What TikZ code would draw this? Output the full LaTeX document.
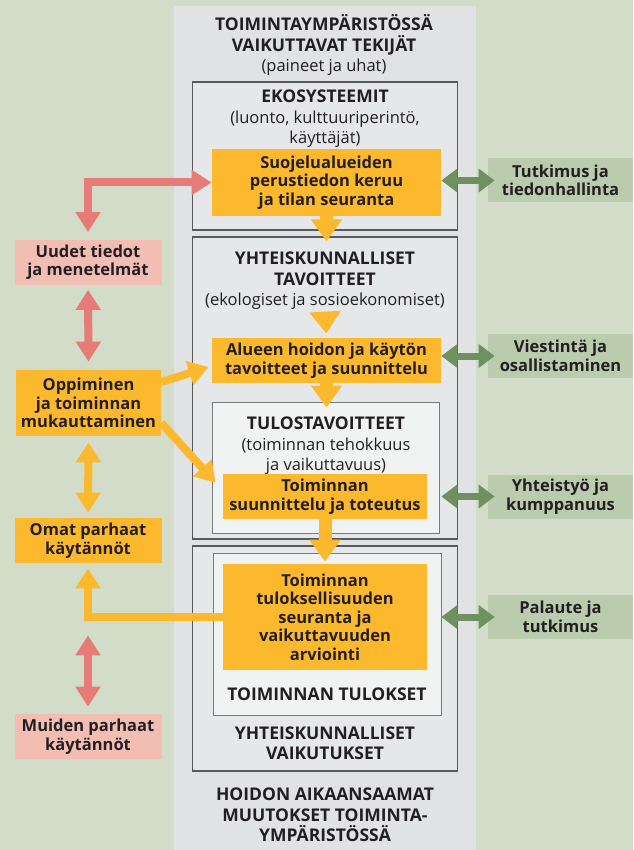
\documentclass[tikz,border=0pt]{standalone}
\usepackage{fontspec}
\setmainfont{Open Sans}
\usepackage{xcolor}
\usetikzlibrary{positioning,arrows.meta}
\definecolor{bggreen}{HTML}{D2DCC8}
\definecolor{colgrey}{HTML}{E1E2E3}
\definecolor{boxgrey}{HTML}{E6E7E8}
\definecolor{innergrey}{HTML}{F1F2F2}
\definecolor{framegrey}{HTML}{58595B}
\definecolor{orangebox}{HTML}{FDB92E}
\definecolor{pinkbox}{HTML}{F2BEB4}
\definecolor{redarr}{HTML}{E77B78}
\definecolor{greenbox}{HTML}{BACBAE}
\definecolor{greenarr}{HTML}{6F9060}
\definecolor{ink}{HTML}{231F20}
\newcommand{\sub}{\mdseries\fontsize{16.5}{18.5}\selectfont}
\tikzset{every picture/.style={line width=0.75pt}}
\tikzset{
  txt/.style={align=center, text=ink, inner sep=0pt, font=\fontsize{16.5}{18.5}\selectfont},
  head/.style={txt, font=\fontsize{17.5}{20.5}\selectfont\bfseries},
  outerbox/.style={draw=framegrey, line width=1.2pt, fill=boxgrey, minimum width=265pt, inner sep=0pt},
  innerbox/.style={draw=framegrey!80, line width=1pt, fill=innergrey, inner sep=0pt},
  obox/.style={txt, fill=orangebox, font=\fontsize{16.5}{18.5}\selectfont\bfseries},
  pbox/.style={obox, fill=pinkbox, minimum width=147pt, minimum height=45pt},
  gbox/.style={obox, fill=greenbox, minimum width=145pt, minimum height=44pt},
  redarrow/.style={draw=redarr, line width=8pt, {Triangle[width=24pt,length=20pt]}-{Triangle[width=24pt,length=20pt]}},
  orangearrow/.style={draw=orangebox, line width=8pt, -{Triangle[width=24pt,length=20pt]}},
  downarrow/.style={draw=orangebox, line width=13pt, -{Triangle[width=30pt,length=22pt]}},
  greenarrow/.style={draw=greenarr, line width=7pt, {Triangle[width=23pt,length=16pt]}-{Triangle[width=23pt,length=16pt]}}
}
\begin{document}
\begin{tikzpicture}[x=1pt,y=-1pt]
\useasboundingbox (0,0) rectangle (633,850);
\fill[bggreen] (0,0) rectangle (633,850);
\fill[colgrey] (174,6) rectangle (476,850);
%
\node[outerbox, minimum height=148pt] (eko) at (325.3,156) {};
\node[outerbox, minimum height=302pt] (yht) at (325.3,388) {};
\node[outerbox, minimum height=225pt] (vaik) at (325.3,658.5) {};
\node[innerbox, minimum width=226.5pt, minimum height=131pt] (tulos) at (326,467.5) {};
\node[innerbox, minimum width=228pt, minimum height=162pt] (tulokset) at (327,634) {};
%
\node[obox, minimum width=229pt, minimum height=67pt] (suojelu) at (326.5,182.5) {Suojelualueiden\\perustiedon keruu\\ja tilan seuranta};
\node[obox, minimum width=229pt, minimum height=45pt] (alueen) at (326.5,360.5) {Alueen hoidon ja käytön\\tavoitteet ja suunnittelu};
\node[obox, minimum width=204pt, minimum height=45pt] (toteutus) at (325,496.5) {Toiminnan\\suunnittelu ja toteutus};
\node[obox, minimum width=204pt, minimum height=106pt] (arviointi) at (325,617) {Toiminnan\\tuloksellisuuden\\seuranta ja\\vaikuttavuuden\\arviointi};
%
\node[head] (otsikko) at (324,45) {TOIMINTAYMPÄRISTÖSSÄ\\VAIKUTTAVAT TEKIJÄT\\\sub (paineet ja uhat)};
\node[head] (ekot) at (325,119) {EKOSYSTEEMIT\\\sub (luonto, kulttuuriperintö,\\\sub käyttäjät)};
\node[head] (yhtt) at (325,281) {YHTEISKUNNALLISET\\TAVOITTEET\\\sub (ekologiset ja sosioekonomiset)};
\node[head] (tulost) at (326,446) {TULOSTAVOITTEET\\\sub (toiminnan tehokkuus\\\sub ja vaikuttavuus)};
\node[head] (tuloksett) at (327,694) {TOIMINNAN TULOKSET};
\node[head] (vaikt) at (325,743) {YHTEISKUNNALLISET\\VAIKUTUKSET};
\node[head] (muutokset) at (325,815) {HOIDON AIKAANSAAMAT\\MUUTOKSET TOIMINTA-\\YMPÄRISTÖSSÄ};
%
\node[pbox] (uudet) at (88,262) {Uudet tiedot\\ja menetelmät};
\node[obox, minimum width=145pt, minimum height=66pt] (oppiminen) at (88.5,403) {Oppiminen\\ja toiminnan\\mukauttaminen};
\node[obox, minimum width=147pt, minimum height=45pt] (omat) at (88,540.5) {Omat parhaat\\käytännöt};
\node[pbox] (muiden) at (88,736.5) {Muiden parhaat\\käytännöt};
%
\node[gbox] (tutkimus) at (560.5,180.5) {Tutkimus ja\\tiedonhallinta};
\node[gbox] (viestinta) at (560.5,356) {Viestintä ja\\osallistaminen};
\node[gbox] (yhteistyo) at (560.5,496.5) {Yhteistyö ja\\kumppanuus};
\node[gbox] (palaute) at (560.5,617) {Palaute ja\\tutkimus};
%
\draw[downarrow, shorten >=-5pt] (suojelu.south) -- (suojelu.south |- yht.north);
\draw[downarrow, shorten <=3pt, shorten >=4pt] (yhtt.south) -- (alueen.north);
\draw[downarrow, shorten >=-6pt] (alueen.south) -- (alueen.south |- tulos.north);
\draw[downarrow, shorten >=2pt] (toteutus.south) -- (arviointi.north);
%
\foreach \Source in {tutkimus,viestinta,yhteistyo,palaute}
\draw[greenarrow, shorten <=-7pt] (\Source.west) -- (\Source.west -| suojelu.east);
%
\draw[redarrow, shorten >=7pt] (suojelu.west) -| (uudet.north);
\draw[redarrow, shorten <=5pt, shorten >=8pt] (uudet.south) -- (oppiminen.north);
\draw[redarrow, shorten <=72pt, shorten >=7pt] (omat.south) -- (muiden.north);
%
\draw[orangearrow, {Triangle[width=24pt,length=20pt]}-{Triangle[width=24pt,length=20pt]}, shorten <=6pt, shorten >=5pt] (oppiminen.south) -- (omat.north);
\draw[orangearrow, shorten >=5pt] (arviointi.west) -| (omat.south);
\draw[orangearrow] ([yshift=21pt]oppiminen.east) -- ([xshift=-3pt,yshift=-6.5pt]alueen.west);
\draw[orangearrow] ([yshift=-20pt]oppiminen.east) -- ([xshift=-7pt,yshift=-9pt]toteutus.north west);
\end{tikzpicture}
\end{document}
